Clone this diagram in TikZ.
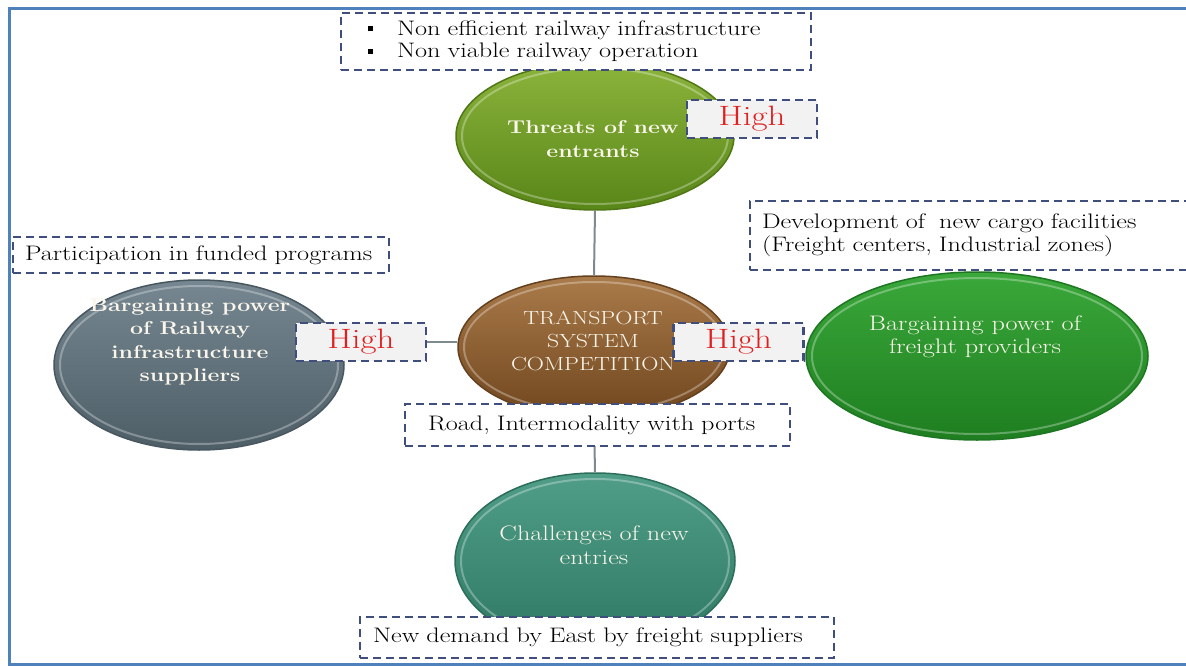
\documentclass[tikz,border=0pt]{standalone}
\usepackage{fontspec}
\setmainfont{Latin Modern Roman}[FakeStretch=1.25]
\usetikzlibrary{shapes.geometric}
\definecolor{framec}{HTML}{4F81BD}
\definecolor{dashc}{HTML}{3F4E7C}
\definecolor{linec}{HTML}{7F8A90}
\definecolor{highc}{HTML}{E02020}
\definecolor{highfill}{HTML}{F2F2F2}
\definecolor{elltext}{HTML}{FAF6EC}
\tikzset{
  x=1pt, y=-1pt,
  frameline/.style={draw=framec, line width=3pt},
  conn/.style={draw=linec, line width=2pt},
  ell/.style={ellipse, inner sep=0pt, line width=1.5pt},
  rim/.style={draw=white, opacity=0.3, line width=2pt},
  elltxt/.style={text=elltext, align=center, font=\fontsize{21}{23.5}\selectfont},
  elltxtb/.style={text=elltext, align=center, font=\fontsize{18.5}{23.5}\selectfont\bfseries},
  dbox/.style={draw=dashc, line width=2.5pt, dash pattern=on 8pt off 5pt, fill=white,
    inner sep=0pt, font=\fontsize{21}{22.5}\selectfont, text=black},
  hbox/.style={draw=dashc, line width=2.5pt, dash pattern=on 8pt off 5pt, fill=highfill,
    inner sep=0pt, minimum width=130pt, minimum height=38pt,
    font=\fontsize{28}{30}\selectfont, text=highc},
}
\newcommand{\sqbul}{\rule[0.2em]{5pt}{5pt}}
\begin{document}
\begin{tikzpicture}
\useasboundingbox (0,0) rectangle (1186,666);
\clip (0,0) rectangle (1186,666);
\fill[white] (0,0) rectangle (1186,666);
% frame
\draw[frameline] (1192,8.5) -- (9.5,8.5) -- (9.5,664.5) -- (1192,664.5);

% ellipses
\node[ell, minimum width=278pt, minimum height=148pt, top color={rgb,255:red,140;green,180;blue,60}, bottom color={rgb,255:red,88;green,134;blue,24}, draw={rgb,255:red,80;green,118;blue,22}] (thr) at (595,136) {};
\node[ell, minimum width=272pt, minimum height=142pt, top color={rgb,255:red,170;green,123;blue,74}, bottom color={rgb,255:red,112;green,70;blue,30}, draw={rgb,255:red,100;green,64;blue,30}] (ctr) at (594,347) {};
\node[ell, minimum width=290pt, minimum height=170pt, top color={rgb,255:red,118;green,135;blue,145}, bottom color={rgb,255:red,78;green,94;blue,103}, draw={rgb,255:red,72;green,86;blue,95}] (lft) at (199,365) {};
\node[ell, minimum width=342pt, minimum height=168pt, top color={rgb,255:red,58;green,168;blue,58}, bottom color={rgb,255:red,30;green,126;blue,32}, draw={rgb,255:red,30;green,118;blue,34}] (rgt) at (977,356) {};
\node[ell, minimum width=280pt, minimum height=176pt, top color={rgb,255:red,80;green,158;blue,136}, bottom color={rgb,255:red,46;green,120;blue,98}, draw={rgb,255:red,44;green,110;blue,90}] (bot) at (595,561) {};
% inner highlight rims
\draw[rim] (thr.center) ellipse [x radius=133, y radius=68];
\draw[rim] (ctr.center) ellipse [x radius=130, y radius=65];
\draw[rim] (lft.center) ellipse [x radius=139, y radius=79];
\draw[rim] (rgt.center) ellipse [x radius=165, y radius=78];
\draw[rim] (bot.center) ellipse [x radius=134, y radius=82];

% ellipse texts
\node[elltxtb] (thrt) at (593,139) {Threats of new\\entrants};
\node[elltxt, font=\fontsize{19}{23}\selectfont] (ctrt) at (593,341) {TRANSPORT\\SYSTEM\\COMPETITION};
\node[elltxtb] (lftt) at (190,342) {Bargaining power\\of Railway\\infrastructure\\suppliers};
\node[elltxt] (rgtt) at (975,337) {Bargaining power of\\freight providers};
\node[elltxt] (bott) at (594,545) {Challenges of new\\entries};

% High boxes
\node[hbox] (hT) at (752,119) {High};
\node[hbox] (hL) at (361,342) {High};
\node[hbox] (hR) at (738.5,342) {High};

% connectors
\draw[conn] (thr.south) -- (ctr.north);
\draw[conn] (ctr.south) -- (bot.north);
\draw[conn] (hL.east) -- (hL.east -| ctr.west);

% text boxes
\node[dbox, minimum width=470pt, minimum height=57pt, text width=416pt, align=left] (thrb) at (576,41.5)
  {\sqbul\hspace{24pt}Non efficient railway infrastructure\\ \sqbul\hspace{24pt}Non viable railway operation};
\node[dbox, minimum width=376pt, minimum height=36pt, text width=352pt, align=left] (partb) at (201,255)
  {Participation in funded programs};
\node[dbox, minimum width=440pt, minimum height=69pt, text width=416pt, align=left] (devb) at (970,235.5)
  {Development of\ \ new cargo facilities\\(Freight centers, Industrial zones)};
\node[dbox, minimum width=385pt, minimum height=42pt, text width=339pt, align=left] (roadb) at (597.5,425)
  {Road, Intermodality with ports};
\node[dbox, minimum width=474pt, minimum height=41pt, text width=448pt, align=left] (demb) at (597,637.5)
  {New demand by East by freight suppliers};
\end{tikzpicture}
\end{document}
